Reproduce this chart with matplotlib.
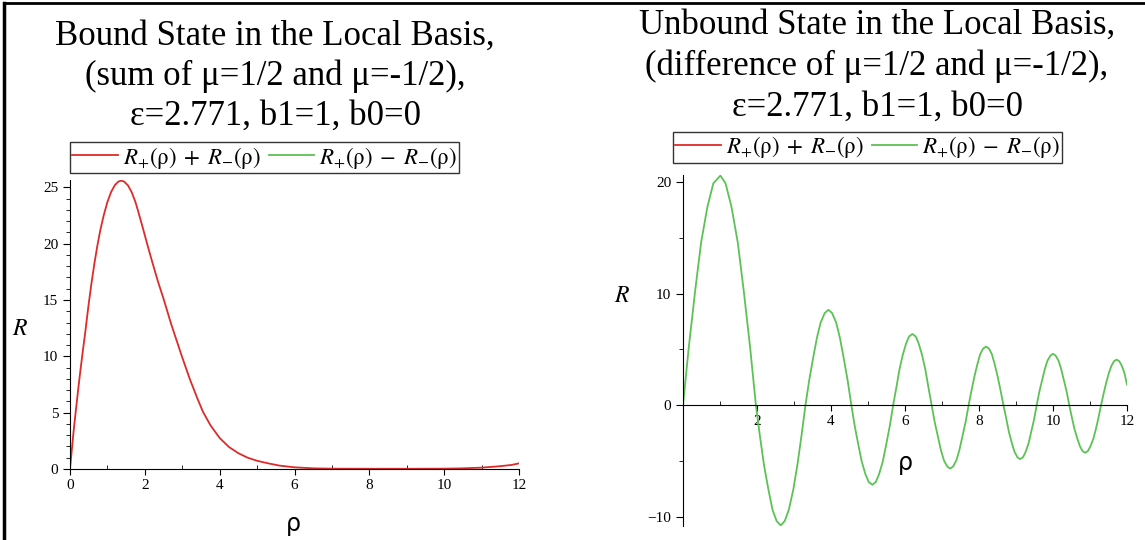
import matplotlib
matplotlib.use("Agg")
import matplotlib.pyplot as plt
from matplotlib.lines import Line2D
from matplotlib.ticker import MultipleLocator

# bound state: sum curve
rho_sum = [0, 0.04, 0.08, 0.12, 0.16, 0.22, 0.28, 0.34, 0.41, 0.49, 0.57, 0.65, 0.73, 0.81,
           0.9, 1.0, 1.1, 1.2, 1.29, 1.37, 1.45, 1.55, 1.65, 1.75, 1.82, 1.95, 2.06, 2.2,
           2.35, 2.51, 2.7, 2.85, 2.99, 3.2, 3.4, 3.55, 3.75, 4.0, 4.25, 4.5, 4.75, 5.0,
           5.3, 5.6, 6.0, 6.5, 7.0, 8.0, 9.0, 10.0, 10.5, 11.0, 11.5, 11.8, 12.0]
R_sum = [0, 1.4, 2.8, 4.1, 5.3, 7.1, 8.8, 10.4, 12.2, 14.4, 16.4, 18.2, 19.8, 21.2,
         22.5, 23.7, 24.6, 25.2, 25.5, 25.6, 25.5, 25.17, 24.56, 23.68, 22.9, 21.35, 20.0, 18.35,
         16.65, 15.0, 12.9, 11.4, 10.0, 8.0, 6.3, 5.1, 3.9, 2.75, 1.95, 1.4, 1.0, 0.73,
         0.5, 0.3, 0.15, 0.06, 0.03, 0.02, 0.02, 0.03, 0.06, 0.12, 0.25, 0.36, 0.5]

# unbound state: difference curve
rho_diff = [0, 0.16, 0.33, 0.49, 0.66, 0.82, 1.01, 1.15, 1.31, 1.48, 1.64, 1.81,
            1.97, 2.08, 2.19, 2.31, 2.42, 2.53, 2.64, 2.75, 2.86, 2.98, 3.09, 3.20,
            3.31, 3.41, 3.52, 3.62, 3.72, 3.83, 3.93, 4.03, 4.14, 4.24, 4.34, 4.45,
            4.55, 4.64, 4.74, 4.83, 4.93, 5.02, 5.12, 5.21, 5.30, 5.40, 5.49, 5.59,
            5.68, 5.77, 5.85, 5.94, 6.03, 6.11, 6.20, 6.29, 6.37, 6.46, 6.55, 6.63,
            6.72, 6.80, 6.89, 6.97, 7.05, 7.14, 7.22, 7.30, 7.39, 7.47, 7.55, 7.64,
            7.72, 7.80, 7.88, 7.96, 8.03, 8.11, 8.19, 8.27, 8.35, 8.42, 8.50, 8.58,
            8.66, 8.74, 8.81, 8.89, 8.96, 9.04, 9.11, 9.19, 9.26, 9.34, 9.41, 9.49,
            9.56, 9.63, 9.71, 9.78, 9.85, 9.93, 10.00, 10.07, 10.15, 10.22, 10.29, 10.37,
            10.44, 10.51, 10.58, 10.66, 10.73, 10.80, 10.87, 10.94, 11.01, 11.09, 11.16, 11.23,
            11.30, 11.37, 11.44, 11.51, 11.58, 11.65, 11.72, 11.79, 11.86, 11.93, 12.00]
R_diff = [0, 5.3, 10.3, 14.6, 17.8, 19.9, 20.6, 19.9, 17.8, 14.6, 10.3, 5.3,
          0, -2.8, -5.4, -7.6, -9.4, -10.4, -10.8, -10.4, -9.4, -7.6, -5.4, -2.8,
          0, 2.21, 4.28, 6.05, 7.40, 8.26, 8.55, 8.26, 7.40, 6.05, 4.28, 2.21,
          0, -1.85, -3.58, -5.06, -6.19, -6.91, -7.15, -6.91, -6.19, -5.06, -3.58, -1.85,
          0, 1.65, 3.19, 4.51, 5.53, 6.16, 6.38, 6.16, 5.53, 4.51, 3.19, 1.65,
          0, -1.48, -2.85, -4.03, -4.94, -5.51, -5.70, -5.51, -4.94, -4.03, -2.85, -1.48,
          0, 1.36, 2.63, 3.71, 4.55, 5.07, 5.25, 5.07, 4.55, 3.71, 2.63, 1.36,
          0, -1.26, -2.43, -3.43, -4.20, -4.68, -4.85, -4.68, -4.20, -3.43, -2.43, -1.26,
          0, 1.19, 2.30, 3.25, 3.98, 4.44, 4.60, 4.44, 3.98, 3.25, 2.30, 1.19,
          0, -1.11, -2.14, -3.03, -3.71, -4.13, -4.28, -4.13, -3.71, -3.03, -2.14, -1.11,
          0, 1.06, 2.04, 2.88, 3.53, 3.94, 4.08, 3.94, 3.53, 2.88, 1.85]

title_left = ["Bound State in the Local Basis,", "(sum of \u03bc=1/2 and \u03bc=-1/2),",
              "\u03b5=2.771, b1=1, b0=0"]
title_right = ["Unbound State in the Local Basis,", "(difference of \u03bc=1/2 and \u03bc=-1/2),",
               "\u03b5=2.771, b1=1, b0=0"]
leg_labels = [r"$R_{+}(\mathrm{\rho})\;+\;R_{-}(\mathrm{\rho})$",
              r"$R_{+}(\mathrm{\rho})\;-\;R_{-}(\mathrm{\rho})$"]

red = "#e02a2a"
green = "#5cc255"

plt.rcParams['font.family'] = ['Liberation Serif', 'DejaVu Serif']
plt.rcParams['mathtext.fontset'] = 'stix'

W, H = 1145, 540
fig = plt.figure(figsize=(11.45, 5.4), dpi=100)

def style_axes(ax, ymaj, ymin):
    for s in ['top', 'right']:
        ax.spines[s].set_visible(False)
    ax.xaxis.set_major_locator(MultipleLocator(2))
    ax.xaxis.set_minor_locator(MultipleLocator(1))
    ax.yaxis.set_major_locator(MultipleLocator(ymaj))
    ax.yaxis.set_minor_locator(MultipleLocator(ymin))
    ax.tick_params(axis='x', which='major', direction='out', length=4, labelsize=11, pad=3)
    ax.tick_params(axis='x', which='minor', direction='in', length=3)
    ax.tick_params(axis='y', which='major', direction='out', length=5, labelsize=11)
    ax.tick_params(axis='y', which='minor', direction='out', length=3)

# left panel
ax1 = fig.add_axes([70 / W, 71 / H, 449 / W, 289 / H])
ax1.plot(rho_sum, R_sum, color=red, lw=1.3)
ax1.set_xlim(0, 12)
ax1.set_ylim(0, 25.65)
style_axes(ax1, 5, 1)
ax1.set_xlabel("\u03c1", fontsize=17, family='DejaVu Sans')
ax1.xaxis.set_label_coords(0.497, -0.15)
ax1.set_ylabel("$R$", fontsize=17, rotation=0)
ax1.yaxis.set_label_coords(-0.111, 0.448)

# right panel
ax2 = fig.add_axes([683 / W, 14 / H, 444 / W, 351 / H])
ax2.plot(rho_diff, R_diff, color=green, lw=1.3)
ax2.set_xlim(0, 12)
ax2.set_ylim(-10.85, 20.65)
style_axes(ax2, 10, 5)
ax2.spines['bottom'].set_position(('data', 0))
ax2.set_xticks([2, 4, 6, 8, 10, 12])
ax2.set_xlabel("\u03c1", fontsize=17, family='DejaVu Sans')
ax2.xaxis.set_label_coords(0.5, 0.215)
ax2.set_ylabel("$R$", fontsize=17, rotation=0)
ax2.yaxis.set_label_coords(-0.137, 0.625)

# titles, one text per line
for i, line in enumerate(title_left):
    fig.text(275 / W, 1 - (45 + 40 * i) / H, line, ha='center', va='baseline', fontsize=25)
for i, line in enumerate(title_right):
    fig.text(877 / W, 1 - (34 + 41 * i) / H, line, ha='center', va='baseline', fontsize=25)

handles = [Line2D([], [], color=red, lw=1.3), Line2D([], [], color=green, lw=1.3)]
for xc, yc in [(264.5, 157.5), (867.5, 147.5)]:
    leg = fig.legend(handles, leg_labels, loc='center', bbox_to_anchor=(xc / W, 1 - yc / H),
                     ncol=2, fontsize=16.5, frameon=True, fancybox=False, framealpha=1,
                     handlelength=2.0, handletextpad=0.2, columnspacing=0.35,
                     borderpad=0.1, borderaxespad=0)
    leg.get_frame().set_edgecolor('#333333')
    leg.get_frame().set_linewidth(1.0)

# outer screenshot border
fig.add_artist(Line2D([4 / W, 4 / W], [0, 1 - 3 / H], color='black', lw=2.5))
fig.add_artist(Line2D([4 / W, 1], [1 - 3 / H, 1 - 3 / H], color='black', lw=2.0))

fig.savefig("out.png", dpi=100)
